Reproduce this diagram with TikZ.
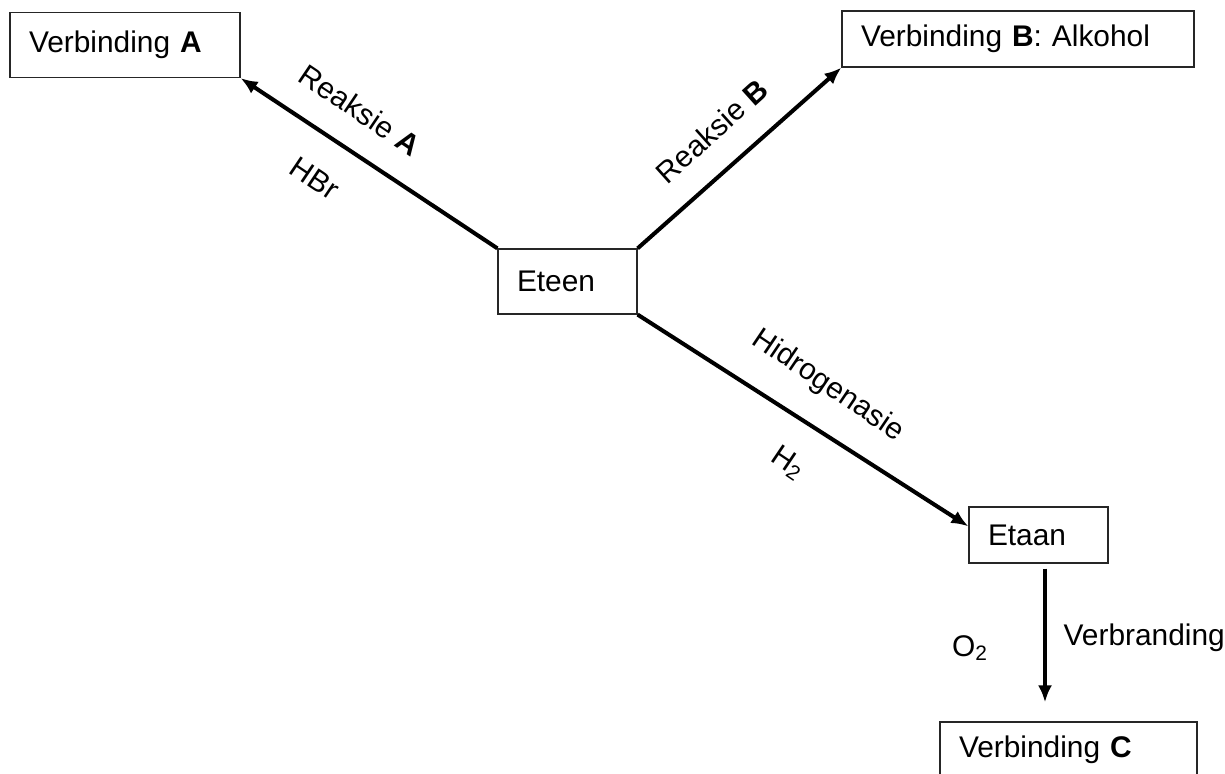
\documentclass[tikz,border=0pt]{standalone}
\usepackage{fontspec}
\setmainfont{Liberation Sans}
\usetikzlibrary{arrows.meta}
\begin{document}
\begin{tikzpicture}[thick,
  box/.style={draw=black!85, line width=0.7pt, rectangle, align=left, inner xsep=0.38cm, inner ysep=0pt},
  arr/.style={line width=2.3pt, -{Latex[length=0.34cm,width=0.28cm]}},
  lbl/.style={inner sep=0pt}]
\fontsize{17}{20}\selectfont
\useasboundingbox (0,0) rectangle (24.5,15.48);
\node[box, text width=3.84cm, minimum height=1.3cm](verbA) at (2.5,14.58) {Verbinding \textbf{A}};
\node[box, text width=6.28cm, minimum height=1.12cm](verbB) at (20.36,14.7) {Verbinding \textbf{B}: Alkohol};
\node[box, text width=2.02cm, minimum height=1.3cm](eteen) at (11.35,9.85) {Eteen};
\node[box, text width=2.02cm, minimum height=1.12cm](etaan) at (20.77,4.78) {Etaan};
\node[box, text width=4.38cm, minimum height=1.12cm](verbC) at (21.37,0.48) {Verbinding \textbf{C}};

\node[lbl, rotate=-34](reaksieA) at (7.2,13.28) {Reaksie \textbf{A}};
\node[lbl, rotate=-34](hbr) at (6.3,11.92) {HBr};
\node[lbl, rotate=42](reaksieB) at (14.24,12.86) {Reaksie \textbf{B}};
\node[lbl, rotate=-34](hidro) at (16.56,7.76) {Hidrogenasie};
\node[lbl, rotate=-34](h2) at (15.76,6.22) {H\textsubscript{2}};
\node[lbl](o2) at (19.4,2.52) {O\textsubscript{2}};
\node[lbl, anchor=west](verbranding) at (21.26,2.73) {Verbranding};

\draw[arr] (eteen.north west) -- (verbA.south east);
\draw[arr] (eteen.north east) -- (verbB.south west);
\draw[arr] (eteen.south east) -- (etaan.173);
\draw[arr, shorten <=0.1cm, shorten >=0.38cm, transform canvas={xshift=0.13cm}] (etaan.south) -- (etaan.south |- verbC.north);
\end{tikzpicture}
\end{document}
